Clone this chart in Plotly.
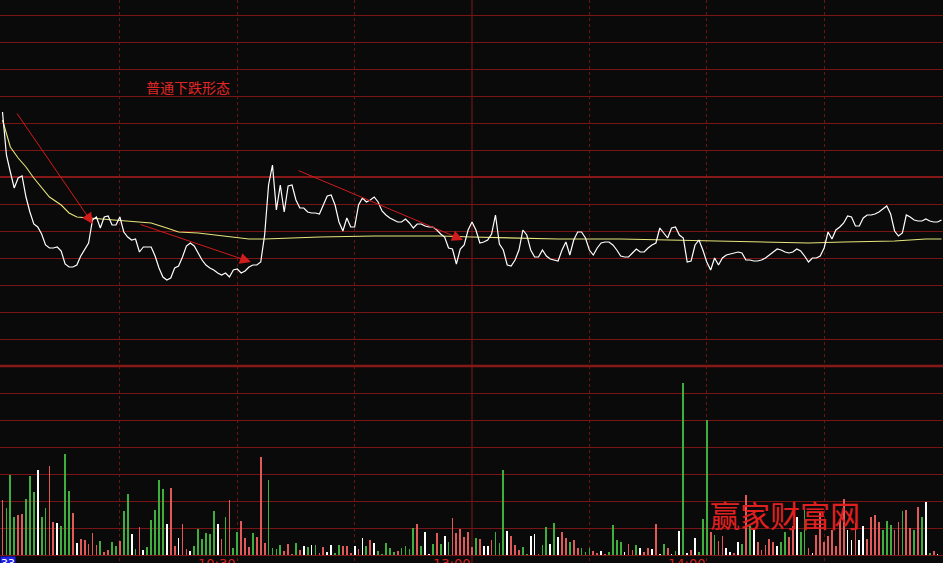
import plotly.graph_objects as go

# ---- data -------------------------------------------------------------
minutes = list(range(241))  # minute index from 09:30 (afternoon continues at 120)

price_pct = [
    0.65, 0.22, 0.05, -0.11, -0.01, 0.01, -0.20, -0.35, -0.47, -0.50,
    -0.57, -0.68, -0.71, -0.71, -0.70, -0.74, -0.87, -0.90, -0.90, -0.88,
    -0.79, -0.72, -0.66, -0.43, -0.40, -0.51, -0.40, -0.39, -0.48, -0.48,
    -0.40, -0.55, -0.60, -0.63, -0.62, -0.75, -0.70, -0.70, -0.70, -0.79,
    -0.91, -1.00, -1.03, -1.01, -0.91, -0.89, -0.80, -0.69, -0.66, -0.69,
    -0.76, -0.83, -0.88, -0.91, -0.93, -0.96, -0.98, -0.96, -1.00, -0.93,
    -0.92, -0.96, -0.94, -0.90, -0.88, -0.88, -0.85, -0.58, -0.08, 0.12,
    -0.33, -0.08, -0.35, -0.09, -0.08, -0.23, -0.31, -0.31, -0.35, -0.36,
    -0.36, -0.37, -0.28, -0.19, -0.18, -0.28, -0.45, -0.54, -0.41, -0.50,
    -0.50, -0.28, -0.21, -0.25, -0.23, -0.20, -0.25, -0.34, -0.38, -0.41,
    -0.43, -0.45, -0.45, -0.42, -0.46, -0.51, -0.47, -0.47, -0.49, -0.50,
    -0.50, -0.53, -0.57, -0.60, -0.71, -0.72, -0.87, -0.72, -0.68, -0.53,
    -0.45, -0.53, -0.66, -0.65, -0.63, -0.57, -0.38, -0.67, -0.73, -0.88,
    -0.89, -0.83, -0.73, -0.53, -0.58, -0.73, -0.80, -0.80, -0.73, -0.79,
    -0.82, -0.83, -0.84, -0.73, -0.65, -0.78, -0.63, -0.55, -0.55, -0.61,
    -0.73, -0.78, -0.71, -0.66, -0.65, -0.65, -0.68, -0.73, -0.79, -0.80,
    -0.80, -0.76, -0.72, -0.75, -0.75, -0.71, -0.68, -0.66, -0.51, -0.56,
    -0.61, -0.51, -0.50, -0.58, -0.61, -0.85, -0.84, -0.68, -0.63, -0.73,
    -0.85, -0.93, -0.81, -0.88, -0.81, -0.78, -0.77, -0.76, -0.75, -0.76,
    -0.83, -0.83, -0.84, -0.84, -0.83, -0.81, -0.78, -0.75, -0.72, -0.73,
    -0.75, -0.76, -0.75, -0.72, -0.74, -0.79, -0.85, -0.81, -0.81, -0.79,
    -0.71, -0.55, -0.62, -0.53, -0.50, -0.46, -0.39, -0.40, -0.49, -0.49,
    -0.41, -0.38, -0.38, -0.37, -0.35, -0.32, -0.29, -0.37, -0.54, -0.59,
    -0.56, -0.38, -0.40, -0.43, -0.44, -0.44, -0.42, -0.44, -0.45, -0.45,
    -0.43,
]

avg_minutes = [0, 2, 4, 6, 8, 10, 12, 15, 17, 19, 22, 25, 33, 38, 42, 45, 50,
               59, 63, 67, 73, 81, 95, 112, 120, 130, 142, 158, 180, 191, 206,
               215, 228, 236, 240]
avg_pct = [0.57, 0.30, 0.19, 0.10, -0.01, -0.11, -0.20, -0.28, -0.36, -0.40,
           -0.41, -0.42, -0.45, -0.46, -0.51, -0.55, -0.56, -0.60, -0.62, -0.62,
           -0.61, -0.60, -0.59, -0.59, -0.60, -0.61, -0.62, -0.62, -0.64, -0.65,
           -0.66, -0.65, -0.64, -0.62, -0.62]

volume = [
    550, 467, 800, 383, 400, 410, 560, 790, 630, 850,
    383, 467, 890, 330, 317, 290, 1010, 640, 417, 123,
    160, 150, 110, 220, 100, 140, 33, 50, 130, 90,
    140, 440, 610, 213, 60, 280, 50, 80, 350, 450,
    750, 660, 310, 673, 90, 170, 310, 60, 40, 90,
    260, 160, 220, 210, 440, 310, 160, 380, 550, 70,
    230, 340, 170, 80, 220, 180, 977, 120, 750, 70,
    60, 100, 40, 110, 10, 120, 50, 90, 80, 100,
    100, 23, 77, 30, 100, 17, 100, 90, 90, 17,
    90, 57, 170, 90, 150, 120, 40, 10, 120, 70,
    33, 40, 70, 90, 60, 270, 310, 90, 230, 10,
    110, 220, 110, 190, 130, 370, 220, 260, 180, 230,
    80, 170, 160, 90, 90, 150, 230, 120, 850, 240,
    190, 100, 50, 80, 10, 190, 210, 10, 100, 280,
    110, 320, 180, 230, 170, 130, 150, 70, 70, 30,
    70, 40, 20, 40, 10, 30, 300, 150, 130, 30,
    110, 50, 100, 70, 30, 70, 60, 310, 10, 110,
    70, 10, 40, 240, 1717, 20, 50, 170, 30, 360,
    1350, 230, 200, 140, 190, 70, 30, 20, 130, 110,
    600, 290, 250, 130, 50, 100, 160, 130, 90, 130,
    230, 180, 290, 380, 230, 450, 70, 20, 200, 430,
    130, 190, 250, 90, 360, 560, 250, 150, 320, 150,
    290, 160, 380, 400, 330, 250, 340, 300, 250, 330,
    440, 450, 270, 250, 480, 380, 530, 20, 40, 10,
]

# r = up (red), g = down (green), w = unchanged (white)
volume_dir = list(
    "rgggrrgggw" "ggrrwgggrw" "rrrrrgrrgg" "rggwgrwggg"
    "ggwrrwrrwg" "gggggwrgrg" "grrrgrrrgg" "ggrrrgrwgw"
    "grrwwggrrr" "wrwgrwgggg" "grggggrgww" "grgwgrrrrr"
    "rgrwwrgggw" "rrrggwwrgg" "wgwrrgrrgg" "grrwrggggw"
    "rrgwrrwrwg" "rwgwgwrwgg" "grgrrwwrwg" "rgwrrrrrwg"
    "grrwggrwrr" "rrrrrrwwrw" "wrrrrgggrr" "grrgrgwgrw"
)
volume_dir = volume_dir[:len(volume)]

time_tick_minutes = [60, 120, 180]
time_tick_labels = ["10:30", "13:00", "14:00"]

# ---- styling ----------------------------------------------------------
BG = "#0b0a0a"
GRID = "#7a1515"
DOT = "#6a1414"
dir_colors = {"r": "#e05a5a", "g": "#3fae3f", "w": "#ffffff"}

price_grid = [1.62, 1.35, 1.08, 0.81, 0.54, 0.27, 0, -0.27, -0.54, -0.81,
              -1.08, -1.35, -1.62]
vol_grid = [0, 270, 540, 810, 1080, 1350, 1620]

fig = go.Figure()

fig.add_trace(go.Bar(
    x=minutes[:len(volume)], y=volume, yaxis="y2",
    marker=dict(color=[dir_colors[c] for c in volume_dir], line=dict(width=0)),
    width=0.45, hoverinfo="skip",
))
fig.add_trace(go.Scatter(
    x=avg_minutes, y=avg_pct, mode="lines",
    line=dict(color="#e6e67a", width=1.1), hoverinfo="skip",
))
fig.add_trace(go.Scatter(
    x=minutes[:len(price_pct)], y=price_pct, mode="lines",
    line=dict(color="#ffffff", width=1.2), hoverinfo="skip",
))

fig.update_layout(
    width=943, height=563,
    margin=dict(l=0, r=0, t=0, b=0),
    paper_bgcolor=BG, plot_bgcolor=BG,
    showlegend=False, bargap=0,
    xaxis=dict(range=[-0.64, 240.38], showticklabels=False, ticks="",
               zeroline=False, showgrid=True, gridcolor=DOT, gridwidth=1,
               griddash="dot", tickvals=[30, 60, 90, 150, 180, 210],
               showline=False),
    yaxis=dict(range=[-3.86, 1.77], showticklabels=False, ticks="",
               tickvals=price_grid, showgrid=True, gridcolor=GRID, gridwidth=1,
               zeroline=True, zerolinecolor="#861818", zerolinewidth=2,
               showline=False),
    yaxis2=dict(range=[-80, 5550], overlaying="y", showticklabels=False,
                ticks="", tickvals=vol_grid, showgrid=True, gridcolor=GRID,
                gridwidth=1, zeroline=False, showline=False),
)

# midday solid divider and price/volume separator
fig.add_shape(type="line", xref="x", yref="paper", x0=120, x1=120, y0=0, y1=1,
              line=dict(color="#7e1616", width=1), layer="below")
fig.add_shape(type="line", xref="paper", yref="y2", x0=0, x1=1, y0=1890, y1=1890,
              line=dict(color="#861818", width=2.5), layer="below")

# arrows
arrows = [((3.45, 0.65), (23.1, -0.47)),
          ((34.9, -0.47), (63.5, -0.85)),
          ((75.3, 0.07), (117.7, -0.63))]
for (tx, ty), (hx, hy) in arrows:
    fig.add_annotation(x=hx, y=hy, ax=tx, ay=ty, xref="x", yref="y",
                       axref="x", ayref="y", text="", showarrow=True,
                       arrowhead=2, arrowsize=2.2, arrowwidth=1,
                       arrowcolor="#d01c1c", standoff=0)

fig.add_annotation(x=47.4, y=0.90, xref="x", yref="y", text="普通下跌形态",
                   showarrow=False,
                   font=dict(family="Noto Sans CJK SC", size=14, color="#e02626"))

for m, lab in zip(time_tick_minutes, time_tick_labels):
    fig.add_annotation(x=m, y=1 - 554 / 563, xref="x", yref="paper", text=lab,
                       showarrow=False, xanchor="right", yanchor="top",
                       font=dict(family="DejaVu Sans", size=13, color="#d42020"))

fig.add_annotation(x=0, y=1 - 556 / 563, xref="paper", yref="paper", text="33",
                   showarrow=False, xanchor="left", yanchor="top",
                   bgcolor="#1f1fe8", borderpad=0,
                   font=dict(family="DejaVu Sans", size=11, color="#ffffff"))

fig.add_annotation(x=862 / 943, y=1 - 538 / 563, xref="paper", yref="paper",
                   text="赢家财富网", showarrow=False,
                   font=dict(family="Noto Sans CJK SC", size=30, color="#e02020"))

fig.write_html(
    "out.html",
    config={"displayModeBar": False, "staticPlot": True},
    post_script="document.body.style.margin='0';document.body.style.overflow='hidden';",
)
